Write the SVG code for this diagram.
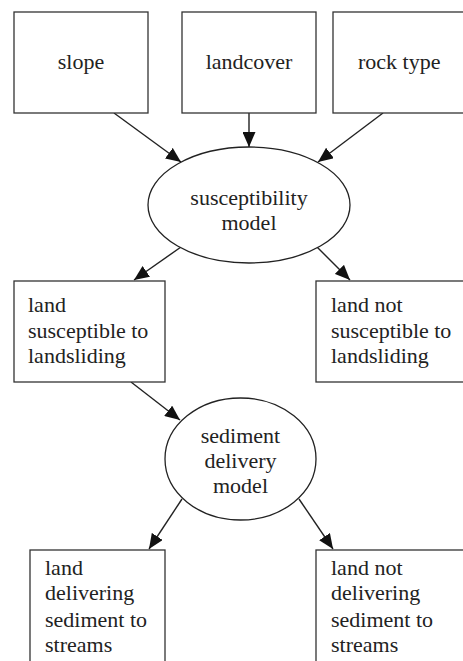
<svg xmlns="http://www.w3.org/2000/svg" width="463" height="661" viewBox="0 0 463 661" font-family="Liberation Serif, serif" font-size="22">
<style>
.box{fill:#fff;stroke:#333;stroke-width:1.3}
.ell{fill:#fff;stroke:#222;stroke-width:1.3}
.t{fill:#222}
.c{text-anchor:middle}
.e{stroke:#222;stroke-width:1.4;fill:none;marker-end:url(#ah)}
</style>
<defs>
<marker id="ah" markerUnits="userSpaceOnUse" markerWidth="15" markerHeight="13" refX="15" refY="6.5" orient="auto">
<path d="M0,0 L15,6.5 L0,13 z" fill="#111"/>
</marker>
</defs>
<rect width="463" height="661" fill="#fff"/>
<g id="connectors">
<line class="e" x1="114" y1="113" x2="181" y2="162"/>
<line class="e" x1="249" y1="113" x2="249" y2="147"/>
<line class="e" x1="383" y1="113" x2="318" y2="162"/>
<line class="e" x1="181" y1="247" x2="134" y2="280"/>
<line class="e" x1="317" y1="247" x2="350" y2="280"/>
<line class="e" x1="131" y1="382" x2="180" y2="420"/>
<line class="e" x1="182" y1="499" x2="149" y2="549"/>
<line class="e" x1="299" y1="499" x2="333" y2="549"/>
</g>
<g id="slope">
<rect class="box" x="14" y="12" width="134" height="101"/>
<text class="t c" x="81" y="69">slope</text>
</g>
<g id="landcover">
<rect class="box" x="182" y="12" width="134" height="101"/>
<text class="t c" x="249" y="69">landcover</text>
</g>
<g id="rocktype">
<rect class="box" x="333" y="12" width="140" height="101"/>
<text class="t" x="358" y="69">rock type</text>
</g>
<g id="susceptibility">
<ellipse class="ell" cx="249" cy="205" rx="101" ry="58"/>
<text class="t c" x="249" y="205">susceptibility</text>
<text class="t c" x="249" y="230">model</text>
</g>
<g id="susceptible">
<rect class="box" x="14" y="281" width="151" height="101"/>
<text class="t" x="28" y="312">land</text>
<text class="t" x="28" y="338">susceptible to</text>
<text class="t" x="28" y="363">landsliding</text>
</g>
<g id="notsusceptible">
<rect class="box" x="316" y="281" width="157" height="101"/>
<text class="t" x="331" y="312">land not</text>
<text class="t" x="331" y="338">susceptible to</text>
<text class="t" x="331" y="363">landsliding</text>
</g>
<g id="sediment">
<ellipse class="ell" cx="240.5" cy="459" rx="75.5" ry="61"/>
<text class="t c" x="240.5" y="443">sediment</text>
<text class="t c" x="240.5" y="468">delivery</text>
<text class="t c" x="240.5" y="493">model</text>
</g>
<g id="delivering">
<rect class="box" x="30" y="550" width="135" height="130"/>
<text class="t" x="45" y="575">land</text>
<text class="t" x="45" y="600">delivering</text>
<text class="t" x="45" y="627">sediment to</text>
<text class="t" x="45" y="652">streams</text>
</g>
<g id="notdelivering">
<rect class="box" x="316" y="550" width="157" height="130"/>
<text class="t" x="331" y="575">land not</text>
<text class="t" x="331" y="600">delivering</text>
<text class="t" x="331" y="627">sediment to</text>
<text class="t" x="331" y="652">streams</text>
</g>
</svg>
